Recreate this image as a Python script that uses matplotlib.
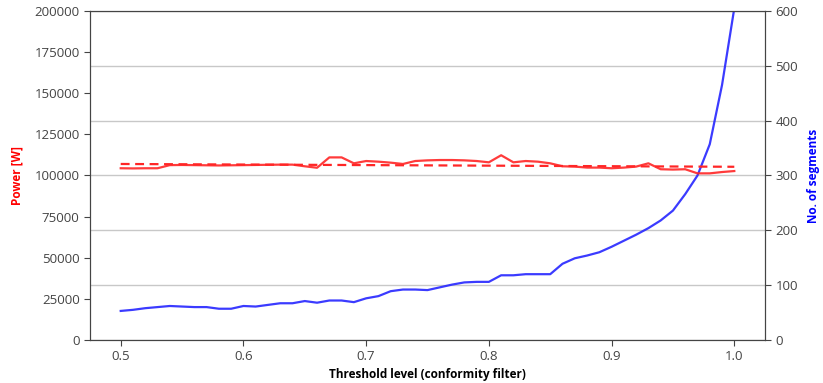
import matplotlib
matplotlib.use("Agg")
import matplotlib.pyplot as plt
import numpy as np

threshold = [0.50, 0.51, 0.52, 0.53, 0.54, 0.55, 0.56, 0.57, 0.58, 0.59,
             0.60, 0.61, 0.62, 0.63, 0.64, 0.65, 0.66, 0.67, 0.68, 0.69,
             0.70, 0.71, 0.72, 0.73, 0.74, 0.75, 0.76, 0.77, 0.78, 0.79,
             0.80, 0.81, 0.82, 0.83, 0.84, 0.85, 0.86, 0.87, 0.88, 0.89,
             0.90, 0.91, 0.92, 0.93, 0.94, 0.95, 0.96, 0.97, 0.98, 0.99, 1.00]

power = [104400, 104300, 104400, 104400, 106300, 106400, 106300, 106200, 106100, 106200,
         106300, 106400, 106500, 106600, 106600, 105600, 104700, 111000, 111000, 107400,
         108800, 108400, 107800, 107000, 108800, 109200, 109400, 109400, 109200, 108800,
         108000, 112300, 108000, 108800, 108400, 107400, 105600, 105400, 104800, 104800,
         104400, 104800, 105400, 107400, 103800, 103600, 103800, 101300, 101300, 102100, 102700]

power_trend_x = [0.50, 1.00]
power_trend = [107000, 105300]

segments = [53, 55, 58, 60, 62, 61, 60, 60, 57, 57,
            62, 61, 64, 67, 67, 71, 68, 72, 72, 69,
            76, 80, 89, 92, 92, 91, 96, 101, 105, 106,
            106, 118, 118, 120, 120, 120, 139, 149, 154, 160,
            170, 181, 192, 204, 218, 236, 266, 300, 357, 465, 605]

plt.rcParams['font.family'] = ['Open Sans', 'DejaVu Sans']

fig = plt.figure(figsize=(8.23, 3.83), dpi=100)
ax = fig.add_axes([0.1094, 0.1123, 0.8201, 0.8590])
ax2 = ax.twinx()

ax.plot(threshold, power, color=(1.0, 0.15, 0.15), lw=1.6, alpha=0.9)
ax.plot(power_trend_x, power_trend, color=(1.0, 0.15, 0.15), lw=1.6, ls=(0, (4, 2.5)))
ax2.plot(threshold, segments, color=(0.15, 0.15, 1.0), lw=1.6, alpha=0.9)

ax.set_xlim(0.475, 1.025)
ax.set_ylim(0, 200000)
ax.set_yticks(np.arange(0, 200001, 25000))
ax.set_xticks([0.5, 0.6, 0.7, 0.8, 0.9, 1.0])
ax2.set_ylim(0, 600)
ax2.set_yticks(np.arange(0, 601, 100))
ax2.grid(True, axis='y', color='#c8c8c8', lw=1)
ax.set_zorder(ax2.get_zorder() + 1)
ax.patch.set_visible(False)
ax2.set_axisbelow(True)

tick_col = '#444444'
for a in (ax, ax2):
    a.tick_params(labelsize=9.5, colors=tick_col, length=4)
    for s in a.spines.values():
        s.set_color('#444444')

ax.set_xlabel("Threshold level (conformity filter)", fontsize=8.5, fontweight='bold',
              color='black')
ax.xaxis.set_label_coords(0.5, -0.085)
ax.set_ylabel("Power [W]", fontsize=8.5, fontweight='bold', color='red')
ax.yaxis.set_label_coords(-0.098, 0.5)
ax2.set_ylabel("No. of segments", fontsize=8.5, fontweight='bold', color='blue')
ax2.yaxis.set_label_coords(1.062, 0.5)

fig.savefig("out.png", dpi=100)
